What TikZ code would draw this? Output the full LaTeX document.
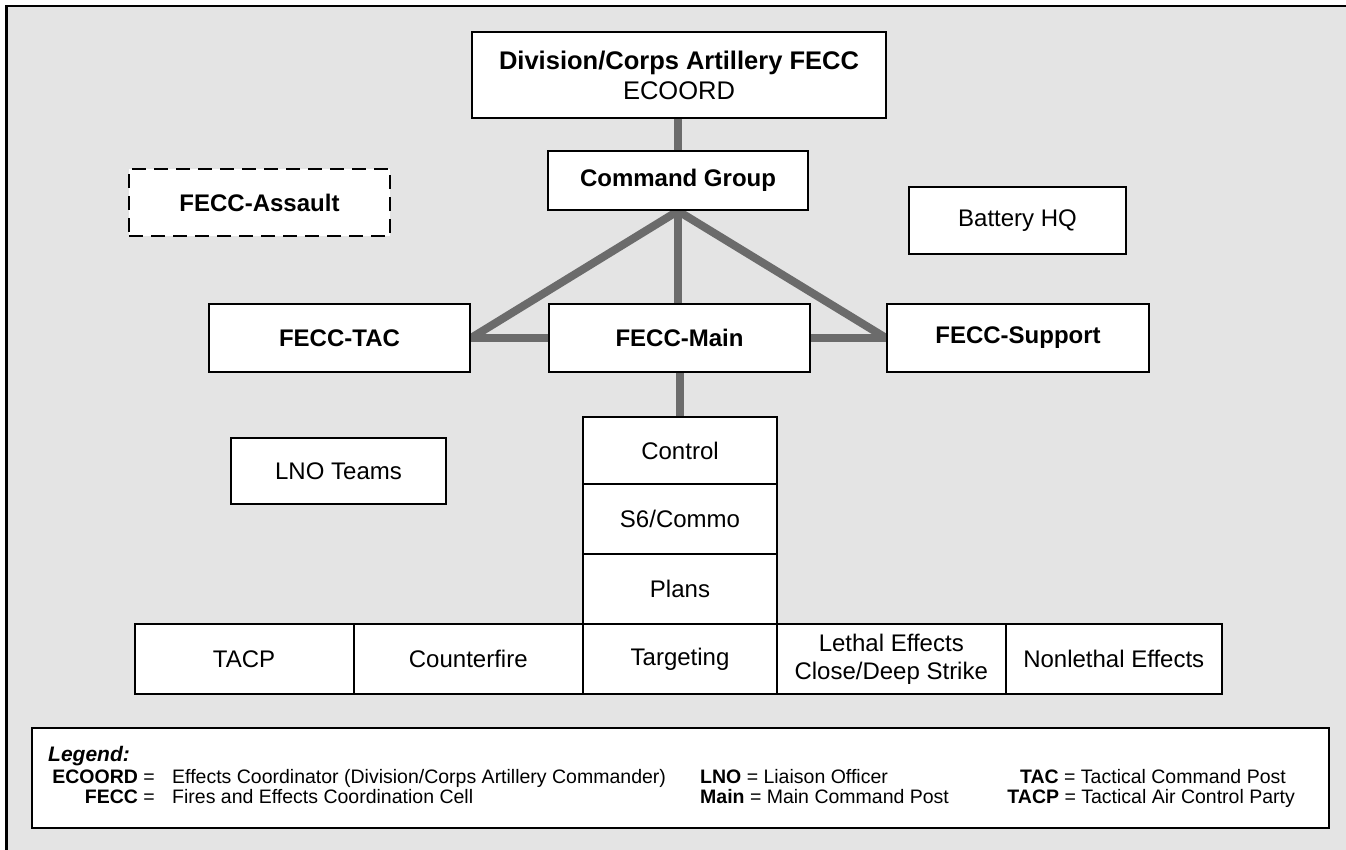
\documentclass[tikz,border=0pt]{standalone}
\usepackage{fontspec}
\setmainfont{Liberation Sans}
\usepackage{tikz}
\usetikzlibrary{backgrounds}
\definecolor{panelgray}{HTML}{E4E4E4}
\definecolor{linkgray}{HTML}{6B6B6B}
\begin{document}
\begin{tikzpicture}[x=1pt,y=-1pt,
  box/.style={draw=black,line width=2pt,fill=white,inner sep=0pt,align=center,font=\fontsize{24}{28}\selectfont},
  link/.style={draw=linkgray,line width=8pt},
  legtxt/.style={inner sep=0pt,font=\fontsize{19.5}{23}\selectfont}]
\useasboundingbox (0,0) rectangle (1346,849);
\node [box,minimum width=414pt,minimum height=86pt,font=\fontsize{25.5}{30}\selectfont] (ec) at (679,75) {\textbf{Division/Corps Artillery FECC}\\ECOORD};
\node [box,minimum width=260pt,minimum height=59pt] (cg) at (678,180.5) {\textbf{Command Group}};
\node [box,dash pattern=on 14pt off 8pt,minimum width=261pt,minimum height=67pt] (asl) at (259.5,202.5) {\textbf{FECC-Assault}};
\node [box,minimum width=217pt,minimum height=67pt] (bhq) at (1017.5,220.5) {Battery HQ};
\node [box,minimum width=261pt,minimum height=68pt] (tac) at (339.5,338) {\textbf{FECC-TAC}};
\node [box,minimum width=261pt,minimum height=68pt] (mn) at (679.5,338) {\textbf{FECC-Main}};
\node [box,minimum width=262pt,minimum height=68pt] (sup) at (1018,338) {\textbf{FECC-Support}};
\node [box,minimum width=215pt,minimum height=66pt] (lno) at (338.5,471) {LNO Teams};
\node [box,minimum width=194pt,minimum height=67pt] (ctl) at (680,450.5) {Control};
\node [box,minimum width=194pt,minimum height=70pt] (s6) at (680,519) {S6/Commo};
\node [box,minimum width=194pt,minimum height=70pt] (pln) at (680,589) {Plans};
\node [box,minimum width=194pt,minimum height=70pt] (tgt) at (680,659) {Targeting};
\node [box,minimum width=219pt,minimum height=70pt] (tacp) at (244,659) {TACP};
\node [box,minimum width=229.5pt,minimum height=70pt] (cf) at (468.25,659) {Counterfire};
\node [box,minimum width=228.5pt,minimum height=70pt] (le) at (891.25,659) {Lethal Effects\\Close/Deep Strike};
\node [box,minimum width=216.5pt,minimum height=70pt] (nle) at (1113.75,659) {Nonlethal Effects};
\node [draw=black,line width=1.2pt,fill=white,minimum width=1297pt,minimum height=100pt] (lg) at (680.5,778) {};
\node [legtxt,anchor=base west] (l0) at (48,761) {\fontsize{21}{25}\selectfont\textbf{\textit{Legend:}}};
\node [legtxt,anchor=base east] (k1) at (155,783) {\textbf{ECOORD} =};
\node [legtxt,anchor=base west] (d1) at (172,783) {Effects Coordinator (Division/Corps Artillery Commander)};
\node [legtxt,anchor=base east] (k2) at (155,803) {\textbf{FECC} =};
\node [legtxt,anchor=base west] (d2) at (172,803) {Fires and Effects Coordination Cell};
\node [legtxt,anchor=base west] (l3) at (700,783) {\textbf{LNO} = Liaison Officer};
\node [legtxt,anchor=base west] (l4) at (700,803) {\textbf{Main} = Main Command Post};
\node [legtxt,anchor=base east] (l5) at (1286,783) {\textbf{TAC} = Tactical Command Post};
\node [legtxt,anchor=base east] (l6) at (1295,803) {\textbf{TACP} = Tactical Air Control Party};
\begin{scope}[on background layer]
\draw [line width=2.5pt,fill=panelgray] (6.5,6) rectangle (1370,870);
\draw [link] (cg.north) -- (cg.north |- ec.south);
\draw [link] (cg.south) -- (cg.south |- mn.north);
\draw [link] (cg.south) -- (tac.east);
\draw [link] (cg.south) -- (sup.west);
\draw [link] (tac.east) -- (mn.west);
\draw [link] (mn.east) -- (sup.west);
\draw [link] (mn.south) -- (mn.south |- ctl.north);
\end{scope}
\end{tikzpicture}
\end{document}
